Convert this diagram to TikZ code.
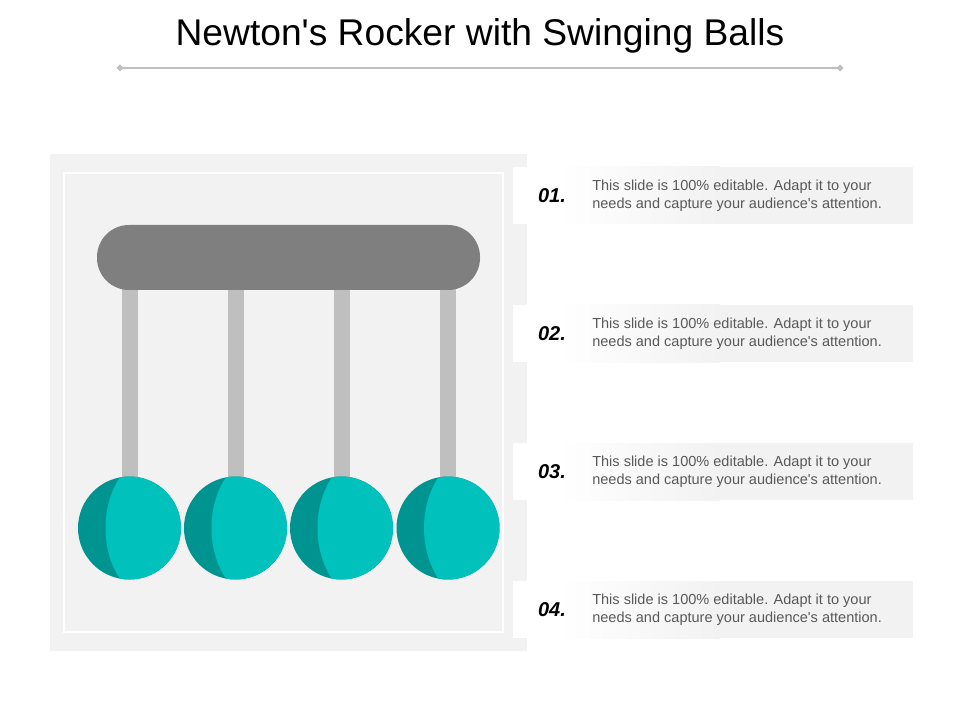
\documentclass[tikz,border=0pt]{standalone}
\usepackage{fontspec}
\setmainfont{Liberation Sans}
\definecolor{panelgray}{HTML}{F2F2F2}
\definecolor{bargray}{HTML}{7F7F7F}
\definecolor{rodgray}{HTML}{BFBFBF}
\definecolor{darkteal}{HTML}{009490}
\definecolor{lightteal}{HTML}{00C1BB}
\definecolor{bodytext}{HTML}{595959}
\begin{document}
\begin{tikzpicture}[x=0.75pt,y=-0.75pt,
  numtext/.style={font=\fontsize{15}{17}\selectfont\bfseries\itshape, text=black, inner sep=0pt},
  bodytxt/.style={font=\fontsize{10.9}{13.5}\selectfont, text=bodytext, align=left, anchor=west, inner sep=0pt},
  rod/.style={fill=rodgray, draw=none}]
\useasboundingbox (0,0) rectangle (960,720);
\fill[white] (0,0) rectangle (960,720);
% title
\node[font=\fontsize{27.9}{32}\selectfont, text=black] (title) at (480,36) {Newton\textquotesingle s Rocker with Swinging Balls};
\coordinate (la) at (120,68);
\coordinate (lb) at (840,68);
\draw[rodgray, line width=1.3pt] (la) -- (lb);
\fill[rodgray] (la) +(-3.5,0) -- +(0,-3.5) -- +(3.5,0) -- +(0,3.5) -- cycle;
\fill[rodgray] (lb) +(-3.5,0) -- +(0,-3.5) -- +(3.5,0) -- +(0,3.5) -- cycle;
% left panel
\fill[panelgray] (50,154) rectangle (527,651);
\draw[white, line width=1.5pt] (64,173) rectangle (503,632);
% rods
\foreach \cx in {130,236,342,448} {
  \fill[rod] (\cx-8,270) rectangle (\cx+8,485);
}
% bar
\fill[bargray, rounded corners=24pt] (97,225) rectangle (480,290);
% balls
\foreach \cx in {129.5,235.5,341.5,448} {
  \fill[darkteal] (\cx,528) circle (51.5);
  \begin{scope}
    \clip (\cx,528) circle (51.5);
    \fill[lightteal] (\cx+26,528) ellipse (50 and 72);
  \end{scope}
}
% right text panels
\foreach \i/\yc in {1/195.5,2/333.5,3/471.5,4/609.5} {
  \fill[panelgray] (513,\yc-28.5) rectangle (913,\yc+28.5);
  \shade[left color=white, right color=panelgray, draw=none] (558,\yc-28.5) rectangle (720,\yc+28.5);
  \fill[white] (513,\yc-28.5) rectangle (560,\yc+28.5);
  \node[numtext] (n\i) at (552,\yc) {0\i.};
  \node[bodytxt] (t\i) at (592,\yc) {This slide is 100\% editable. Adapt it to your\\needs and capture your audience\textquotesingle s attention.};
}
\end{tikzpicture}
\end{document}
